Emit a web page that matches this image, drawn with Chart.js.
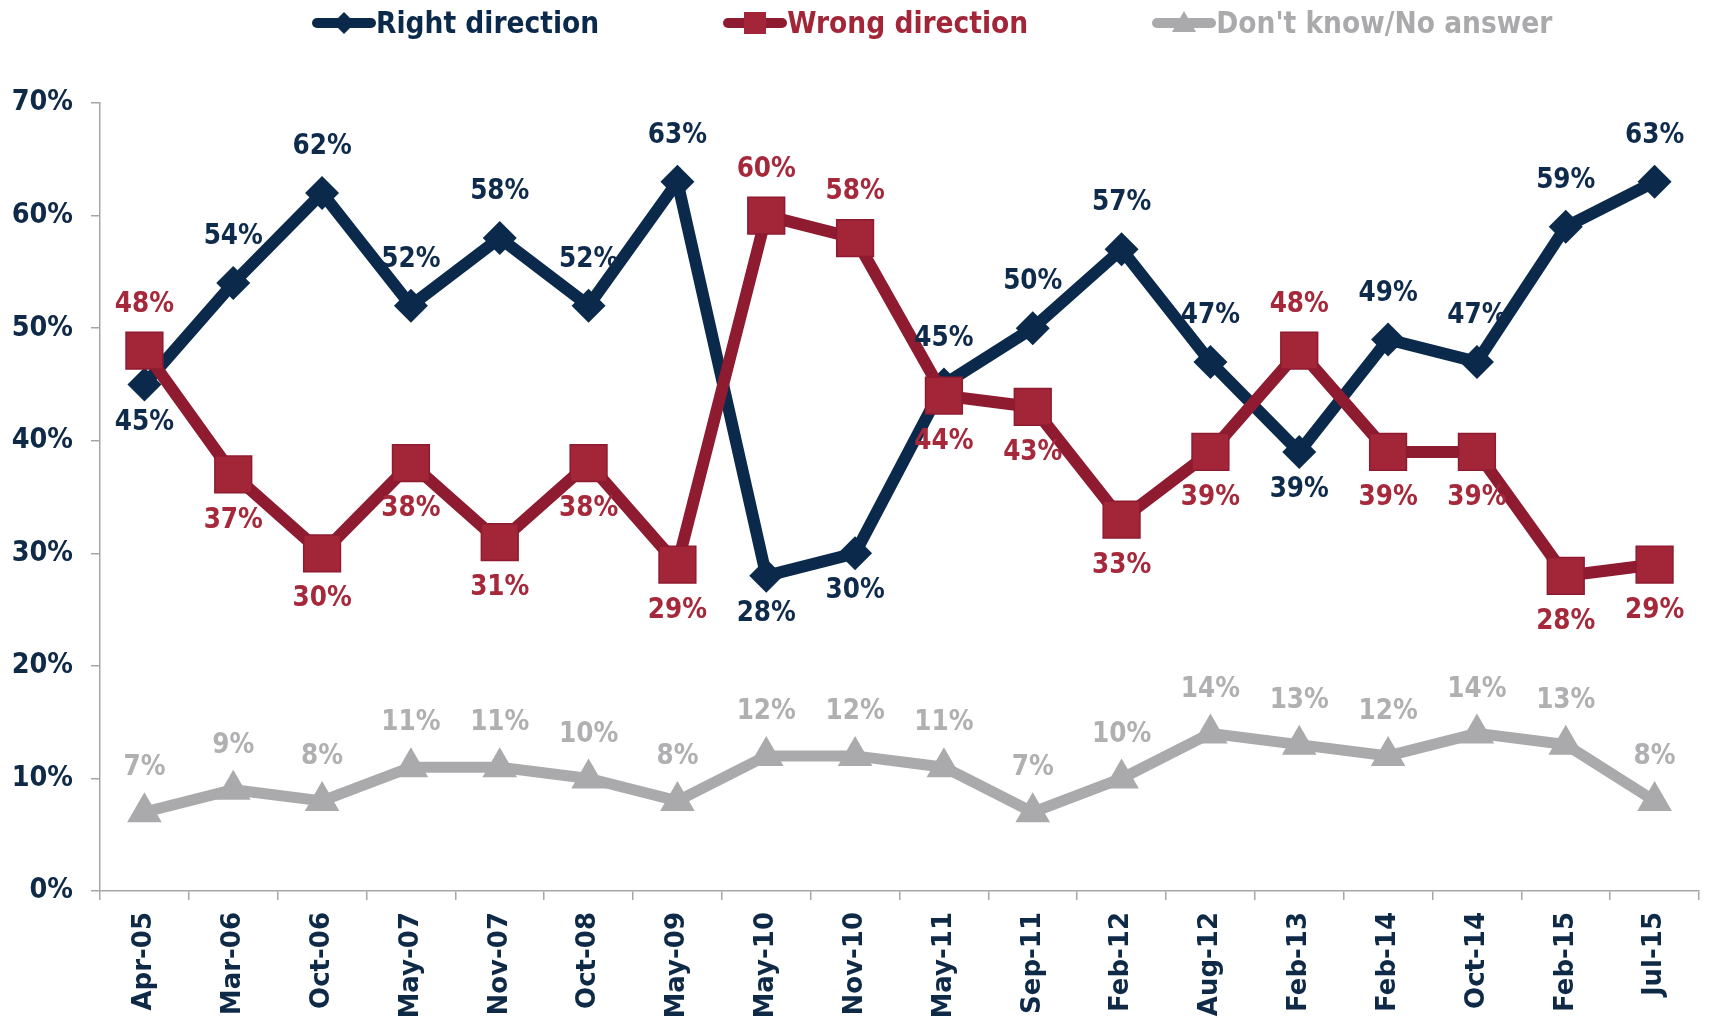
<!DOCTYPE html>
<html>
<head>
<meta charset="utf-8">
<script src="https://cdn.jsdelivr.net/npm/chart.js@4.4.1/dist/chart.umd.min.js"></script>
<style>
    body { margin: 0; background: #fff; }
    .wrap { position: relative; width: 1710px; height: 1018px; }
    #legend {
        position: absolute;
        top: 6px;
        left: 312px;
        display: flex;
        align-items: center;
        font-family: "DejaVu Sans Condensed", "DejaVu Sans", sans-serif;
        font-weight: bold;
        font-size: 29.5px;
        white-space: nowrap;
    }
    .legend-item { display: flex; align-items: center; margin-right: 124px; }
    .legend-item canvas { display: block; }
</style>
</head>
<body>
<div class="wrap">
    <canvas id="cLine" width="1710" height="1018"></canvas>
    <div id="legend"></div>
</div>
<script>
// data
const labels = [
    "Apr-05", "Mar-06", "Oct-06", "May-07", "Nov-07", "Oct-08", "May-09", "May-10", "Nov-10",
    "May-11", "Sep-11", "Feb-12", "Aug-12", "Feb-13", "Feb-14", "Oct-14", "Feb-15", "Jul-15"
];
const rightDir = [45, 54, 62, 52, 58, 52, 63, 28, 30, 45, 50, 57, 47, 39, 49, 47, 59, 63];
const wrongDir = [48, 37, 30, 38, 31, 38, 29, 60, 58, 44, 43, 33, 39, 48, 39, 39, 28, 29];
const dontKnow = [7, 9, 8, 11, 11, 10, 8, 12, 12, 11, 7, 10, 14, 13, 12, 14, 13, 8];
const yTicks = [0, 10, 20, 30, 40, 50, 60, 70];

const seriesNames = ["Right direction", "Wrong direction", "Don't know/No answer"];

const NAVY = "#0B2A4B";
const RED_LINE = "#8E1B30";
const RED_FILL = "#A22538";
const GRAY = "#AAAAAC";
const AXIS = "#A6A6A6";

const condensed = '"DejaVu Sans Condensed", "DejaVu Sans", sans-serif';

/* legend (html) */

function drawLegendMarker(cv, i) {
    const ctx = cv.getContext("2d");
    const cy = cv.height / 2;
    const cx = cv.width / 2;
    ctx.strokeStyle = [NAVY, RED_LINE, GRAY][i];
    ctx.lineWidth = 10;
    ctx.lineCap = "round";
    ctx.beginPath();
    ctx.moveTo(5, cy);
    ctx.lineTo(cv.width - 5, cy);
    ctx.stroke();
    ctx.beginPath();
    if (i === 0) {
        ctx.fillStyle = NAVY;
        ctx.moveTo(cx, cy - 11);
        ctx.lineTo(cx + 11, cy);
        ctx.lineTo(cx, cy + 11);
        ctx.lineTo(cx - 11, cy);
    } else if (i === 1) {
        ctx.fillStyle = RED_FILL;
        ctx.rect(cx - 11, cy - 11, 22, 22);
    } else {
        ctx.fillStyle = GRAY;
        ctx.moveTo(cx, cy - 12);
        ctx.lineTo(cx + 12, cy + 9);
        ctx.lineTo(cx - 12, cy + 9);
    }
    ctx.closePath();
    ctx.fill();
}

function buildLegend() {
    const el = document.getElementById("legend");
    const colors = [NAVY, RED_FILL, GRAY];
    seriesNames.forEach((name, i) => {
        const item = document.createElement("span");
        item.className = "legend-item";
        const cv = document.createElement("canvas");
        cv.width = 64;
        cv.height = 30;
        drawLegendMarker(cv, i);
        const txt = document.createElement("span");
        txt.textContent = name;
        txt.style.color = colors[i];
        item.appendChild(cv);
        item.appendChild(txt);
        el.appendChild(item);
    });
}

/* point labels */

function labelAbove(di, i) {
    if (di === 0) return rightDir[i] >= wrongDir[i];
    if (di === 1) return wrongDir[i] > rightDir[i];
    return true;
}

const pointLabels = {
    id: "pointLabels",
    afterDatasetsDraw(chart) {
        const ctx = chart.ctx;
        ctx.save();
        ctx.font = "bold 27.5px " + condensed;
        ctx.textAlign = "center";
        ctx.textBaseline = "middle";
        chart.data.datasets.forEach((ds, di) => {
            const meta = chart.getDatasetMeta(di);
            meta.data.forEach((pt, i) => {
                const y = labelAbove(di, i) ? pt.y - ds.gapAbove : pt.y + ds.gapBelow;
                ctx.fillStyle = ds.labelColor;
                ctx.fillText(ds.data[i] + "%", pt.x, y);
            });
        });
        ctx.restore();
    }
};

/* chart */

buildLegend();

const lineChart = new Chart(document.getElementById("cLine"), {
    type: "line",
    data: {
        labels,
        datasets: [
            {
                label: seriesNames[0],
                data: rightDir,
                borderColor: NAVY,
                backgroundColor: NAVY,
                borderWidth: 12,
                pointStyle: "rectRot",
                pointRadius: 17,
                pointBorderWidth: 0,
                pointBackgroundColor: NAVY,
                tension: 0,
                order: 1,
                labelColor: "#0F2B4C",
                gapAbove: 46,
                gapBelow: 38
            },
            {
                label: seriesNames[1],
                data: wrongDir,
                borderColor: RED_LINE,
                backgroundColor: RED_FILL,
                borderWidth: 12,
                pointStyle: "rect",
                pointRadius: 26,
                pointBorderWidth: 1.5,
                pointBorderColor: RED_LINE,
                pointBackgroundColor: RED_FILL,
                tension: 0,
                order: 0,
                labelColor: "#A6283B",
                gapAbove: 46,
                gapBelow: 46
            },
            {
                label: seriesNames[2],
                data: dontKnow,
                borderColor: GRAY,
                backgroundColor: GRAY,
                borderWidth: 11,
                pointStyle: "triangle",
                pointRadius: 20,
                pointBorderWidth: 0,
                pointBackgroundColor: GRAY,
                tension: 0,
                order: 2,
                labelColor: "#B0B0B2",
                gapAbove: 44,
                gapBelow: 44
            }
        ]
    },
    options: {
        responsive: false,
        animation: false,
        devicePixelRatio: 1,
        layout: {
            autoPadding: false,
            padding: { top: 103, left: 12, right: 11, bottom: 0 }
        },
        plugins: {
            legend: { display: false },
            tooltip: { enabled: false }
        },
        scales: {
            x: {
                offset: true,
                afterFit: scale => {
                    scale.height = 127;
                    scale.paddingLeft = 0;
                    scale.paddingRight = 0;
                },
                grid: {
                    offset: true,
                    drawOnChartArea: false,
                    tickLength: 9,
                    color: AXIS,
                    lineWidth: 1.5
                },
                border: { color: AXIS, width: 1.5 },
                ticks: {
                    autoSkip: false,
                    maxRotation: 90,
                    minRotation: 90,
                    padding: 12,
                    color: "#0E2A47",
                    font: { family: '"DejaVu Sans", sans-serif', weight: "bold", size: 26 }
                }
            },
            y: {
                min: 0,
                max: 70,
                afterBuildTicks: axis => {
                    axis.ticks = yTicks.map(v => ({ value: v }));
                },
                afterFit: scale => {
                    scale.width = 88;
                },
                grid: {
                    drawOnChartArea: false,
                    tickLength: 9,
                    color: AXIS,
                    lineWidth: 1.5
                },
                border: { color: AXIS, width: 1.5 },
                ticks: {
                    padding: 18,
                    color: "#0E2A47",
                    callback: v => v + "%",
                    font: { family: condensed, weight: "bold", size: 28.5 }
                }
            }
        }
    },
    plugins: [pointLabels]
});
</script>
</body>
</html>
